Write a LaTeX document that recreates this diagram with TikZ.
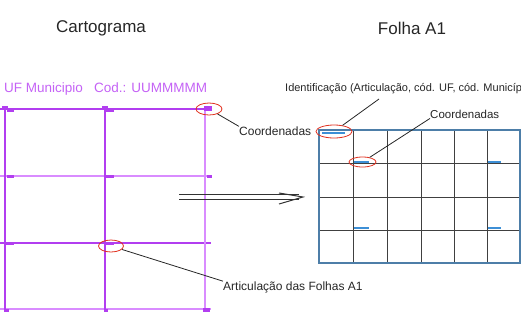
\documentclass[tikz,border=0pt]{standalone}
\usepackage{fontspec}
\setmainfont{Liberation Sans}
\usetikzlibrary{arrows.meta, shapes.geometric, positioning}
\definecolor{cartopurple}{HTML}{B23EF0}
\definecolor{cartolilac}{HTML}{D98CFF}
\definecolor{hdrpurple}{HTML}{C462F5}
\definecolor{sheetblue}{HTML}{4D7EA8}
\definecolor{markblue}{HTML}{3D8FD6}
\definecolor{circred}{HTML}{E0301E}

\begin{document}
\begin{tikzpicture}[x = 1pt, y = -1pt,
		title/.style = { inner sep = 0pt, font = \fontsize{17}{20}\selectfont, text = black!85 },
		lbl/.style = { anchor = west, inner sep = 0pt, font = \fontsize{12}{14}\selectfont, text = black!85 },
		hdr/.style = { anchor = west, inner sep = 0pt, font = \fontsize{13.5}{16}\selectfont, text = hdrpurple },
		ring/.style = { draw = circred, ellipse, line width = 0.8pt, inner sep = 0pt },
		leader/.style = { draw = black!85, line width = 0.8pt },
		cartoline/.style = { draw = cartopurple, line width = 1.2pt },
		cartolight/.style = { draw = cartolilac, line width = 1.3pt },
		cmark/.style = { fill = cartopurple },
		sheetline/.style = { draw = black!75, line width = 1pt },
		sheetborder/.style = { draw = sheetblue, line width = 1.4pt },
		bmark/.style = { fill = markblue },
		arrowline/.style = { draw = black!80, line width = 1pt }]
		\useasboundingbox (0,0) rectangle (521,333);

		\node [title] (cartograma) at (101,28) {Cartograma};
		\node [title] (folha)      at (412,28) {Folha A1};
		\node [hdr]   (uf)         at (4,89)   {UF Municipio~~~Cod.: UUMMMMM};

		% left sheet grid
		\draw [cartoline]  (0,109) -- (211,109);
		\draw [cartolight] (0,176) -- (211,176);
		\draw [cartoline]  (0,243) -- (211,243);
		\draw [cartolight] (0,309) -- (211,309);
		\draw [cartoline]  (5,106) -- (5,311);
		\draw [cartoline]  (105,106) -- (105,311);
		\draw [cartolight] (205,106) -- (205,311);

		\fill [cmark] (2,106) rectangle (8,110);
		\fill [cmark] (7,109) rectangle (14,111.5);
		\fill [cmark] (102,106) rectangle (108,110);
		\fill [cmark] (106,109) rectangle (114,111.5);
		\fill [cmark] (204,106) rectangle (212,111);
		\fill [cmark] (7,175) rectangle (14,178);
		\fill [cmark] (106,175) rectangle (114,178);
		\fill [cmark] (207,175) rectangle (212,177.5);
		\fill [cmark] (5,242) rectangle (14,245);
		\fill [cmark] (106,242) rectangle (114,245);
		\fill [cmark] (4,309) rectangle (9,311.5);
		\fill [cmark] (104,309) rectangle (108,311.5);
		\fill [cmark] (203,308) rectangle (210,312);

		% right sheet grid
		\draw [sheetline] (353,130) -- (353,263);
		\draw [sheetline] (387,130) -- (387,263);
		\draw [sheetline] (421,130) -- (421,263);
		\draw [sheetline] (454,130) -- (454,263);
		\draw [sheetline] (487,130) -- (487,263);
		\draw [sheetline] (319,163) -- (520,163);
		\draw [sheetline] (319,197) -- (520,197);
		\draw [sheetline] (319,230) -- (520,230);
		\draw [sheetborder] (319,130) rectangle (520,263);

		\fill [bmark] (322,131.5) rectangle (345,134);
		\fill [bmark] (354,160.5) rectangle (369,162.5);
		\fill [bmark] (488,160.5) rectangle (501,162.5);
		\fill [bmark] (354,227) rectangle (369,229);
		\fill [bmark] (488,227) rectangle (501,229);

		% labels
		\node [lbl] (coordLtxt) at (239,131) {Coordenadas};
		\node [lbl] (articTxt)  at (223,287) {Articulação das Folhas A1};
		\node [lbl, font = \fontsize{11}{13}\selectfont]   (identTxt)  at (285,89)  {Identificação (Articulação, cód. UF, cód. Municíp};
		\node [lbl, font = \fontsize{11.5}{13}\selectfont] (coordRtxt) at (430,114) {Coordenadas};

		\node [ring, minimum width = 26pt, minimum height = 12pt] (coordL) at (209,109)     {};
		\node [ring, minimum width = 25pt, minimum height = 12pt] (artic)  at (111,246)     {};
		\node [ring, minimum width = 36pt, minimum height = 13pt] (ident)  at (334,131.5)   {};
		\node [ring, minimum width = 27pt, minimum height = 10pt] (coordR) at (362.5,162)   {};

		\coordinate (identFoot) at (379,99);
		\draw [leader] (coordL) -- (coordLtxt.north west);
		\draw [leader] (artic) -- (articTxt.north west);
		\draw [leader] (ident) -- (identFoot);
		\draw [leader] (coordR) -- (coordRtxt.south west);

		% double arrow between the two sheets
		\coordinate (flowS) at (179,197);
		\coordinate (flowE) at (303,197);
		\draw [arrowline] ([yshift = 2.1pt]flowS) -- ([xshift = -4pt, yshift = 2.1pt]flowE);
		\draw [arrowline] ([yshift = -2.1pt]flowS) -- ([xshift = -4pt, yshift = -2.1pt]flowE);
		\draw [arrowline] ([xshift = -24pt, yshift = 4pt]flowE) -- (flowE) -- ([xshift = -24pt, yshift = -7pt]flowE);
	\end{tikzpicture}
\end{document}
